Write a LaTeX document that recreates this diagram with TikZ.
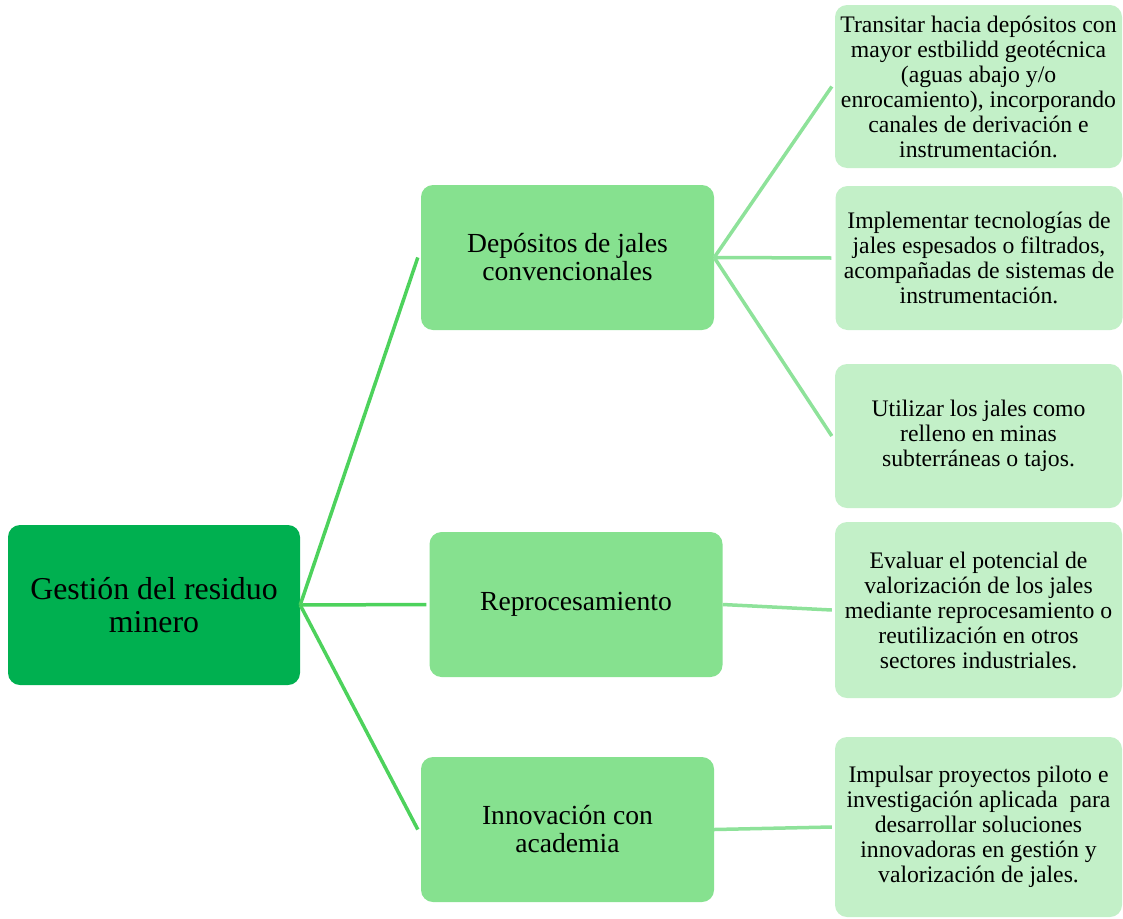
\documentclass[tikz,border=0pt]{standalone}
\usepackage{fontspec}
\setmainfont{Liberation Serif}
\usetikzlibrary{positioning}
\definecolor{rootGreen}{HTML}{00B050}
\definecolor{branchGreen}{HTML}{86E18F}
\definecolor{leafGreen}{HTML}{C3F0C8}
\definecolor{rootLine}{HTML}{4DD25C}
\definecolor{leafLine}{HTML}{8EE29A}
\tikzset{
    rootBox/.style={fill=rootGreen, rounded corners=12pt, minimum width=292pt, minimum height=160pt,
        align=center, font=\fontsize{31.8}{33}\selectfont, inner sep=0pt},
    branchBox/.style={fill=branchGreen, rounded corners=12pt, minimum width=293pt, minimum height=145pt,
        align=center, font=\fontsize{27.6}{28}\selectfont, inner sep=0pt},
    leafBox/.style={fill=leafGreen, rounded corners=12pt, minimum width=287pt,
        align=center, font=\fontsize{23.7}{25}\selectfont, inner sep=0pt},
    rootLink/.style={rootLine, line width=3.5pt},
    leafLink/.style={leafLine, line width=3.5pt}
}
\begin{document}
\begin{tikzpicture}[x=1pt,y=-1pt]
        \useasboundingbox (0,0) rectangle (1123,918);
        % tronco
        \node[rootBox] (residuo) at (154,605) {Gestión del residuo\\minero};
        % ramas
        \node[branchBox] (depositos) at (567.5,257.5) {Depósitos de jales\\convencionales};
        \node[branchBox] (reproceso) at (576,604.5) {Reprocesamiento};
        \node[branchBox] (innovacion) at (567.5,829.5) {Innovación con\\academia};
        % hojas
        \node[leafBox, minimum height=163pt] (transitar) at (978.5,86.5)
            {Transitar hacia depósitos con\\mayor estbilidd geotécnica\\(aguas abajo y/o\\enrocamiento), incorporando\\canales de derivación e\\instrumentación.};
        \node[leafBox, minimum height=144pt] (implementar) at (979,258)
            {Implementar tecnologías de\\jales espesados o filtrados,\\acompañadas de sistemas de\\instrumentación.};
        \node[leafBox, minimum height=144pt] (utilizar) at (978.5,436)
            {Utilizar los jales como\\relleno en minas\\subterráneas o tajos.};
        \node[leafBox, minimum height=176pt] (evaluar) at (978.5,610)
            {Evaluar el potencial de\\valorización de los jales\\mediante reprocesamiento o\\reutilización en otros\\sectores industriales.};
        \node[leafBox, minimum height=180pt] (impulsar) at (978.5,827)
            {Impulsar proyectos piloto e\\investigación aplicada\ \ para\\desarrollar soluciones\\innovadoras en gestión y\\valorización de jales.};
        % conectores
        \draw[rootLink] (residuo.east) -- ([xshift=-3pt]depositos.west);
        \draw[rootLink] (residuo.east) -- ([xshift=-3pt]reproceso.west);
        \draw[rootLink] (residuo.east) -- ([xshift=-3pt]innovacion.west);
        \draw[leafLink] (depositos.east) -- ([xshift=-3pt]transitar.west);
        \draw[leafLink] (depositos.east) -- ([xshift=-4pt]implementar.west);
        \draw[leafLink] (depositos.east) -- ([xshift=-3pt]utilizar.west);
        \draw[leafLink] (reproceso.east) -- ([xshift=-3pt]evaluar.west);
        \draw[leafLink] (innovacion.east) -- ([xshift=-3pt]impulsar.west);
\end{tikzpicture}
\end{document}
